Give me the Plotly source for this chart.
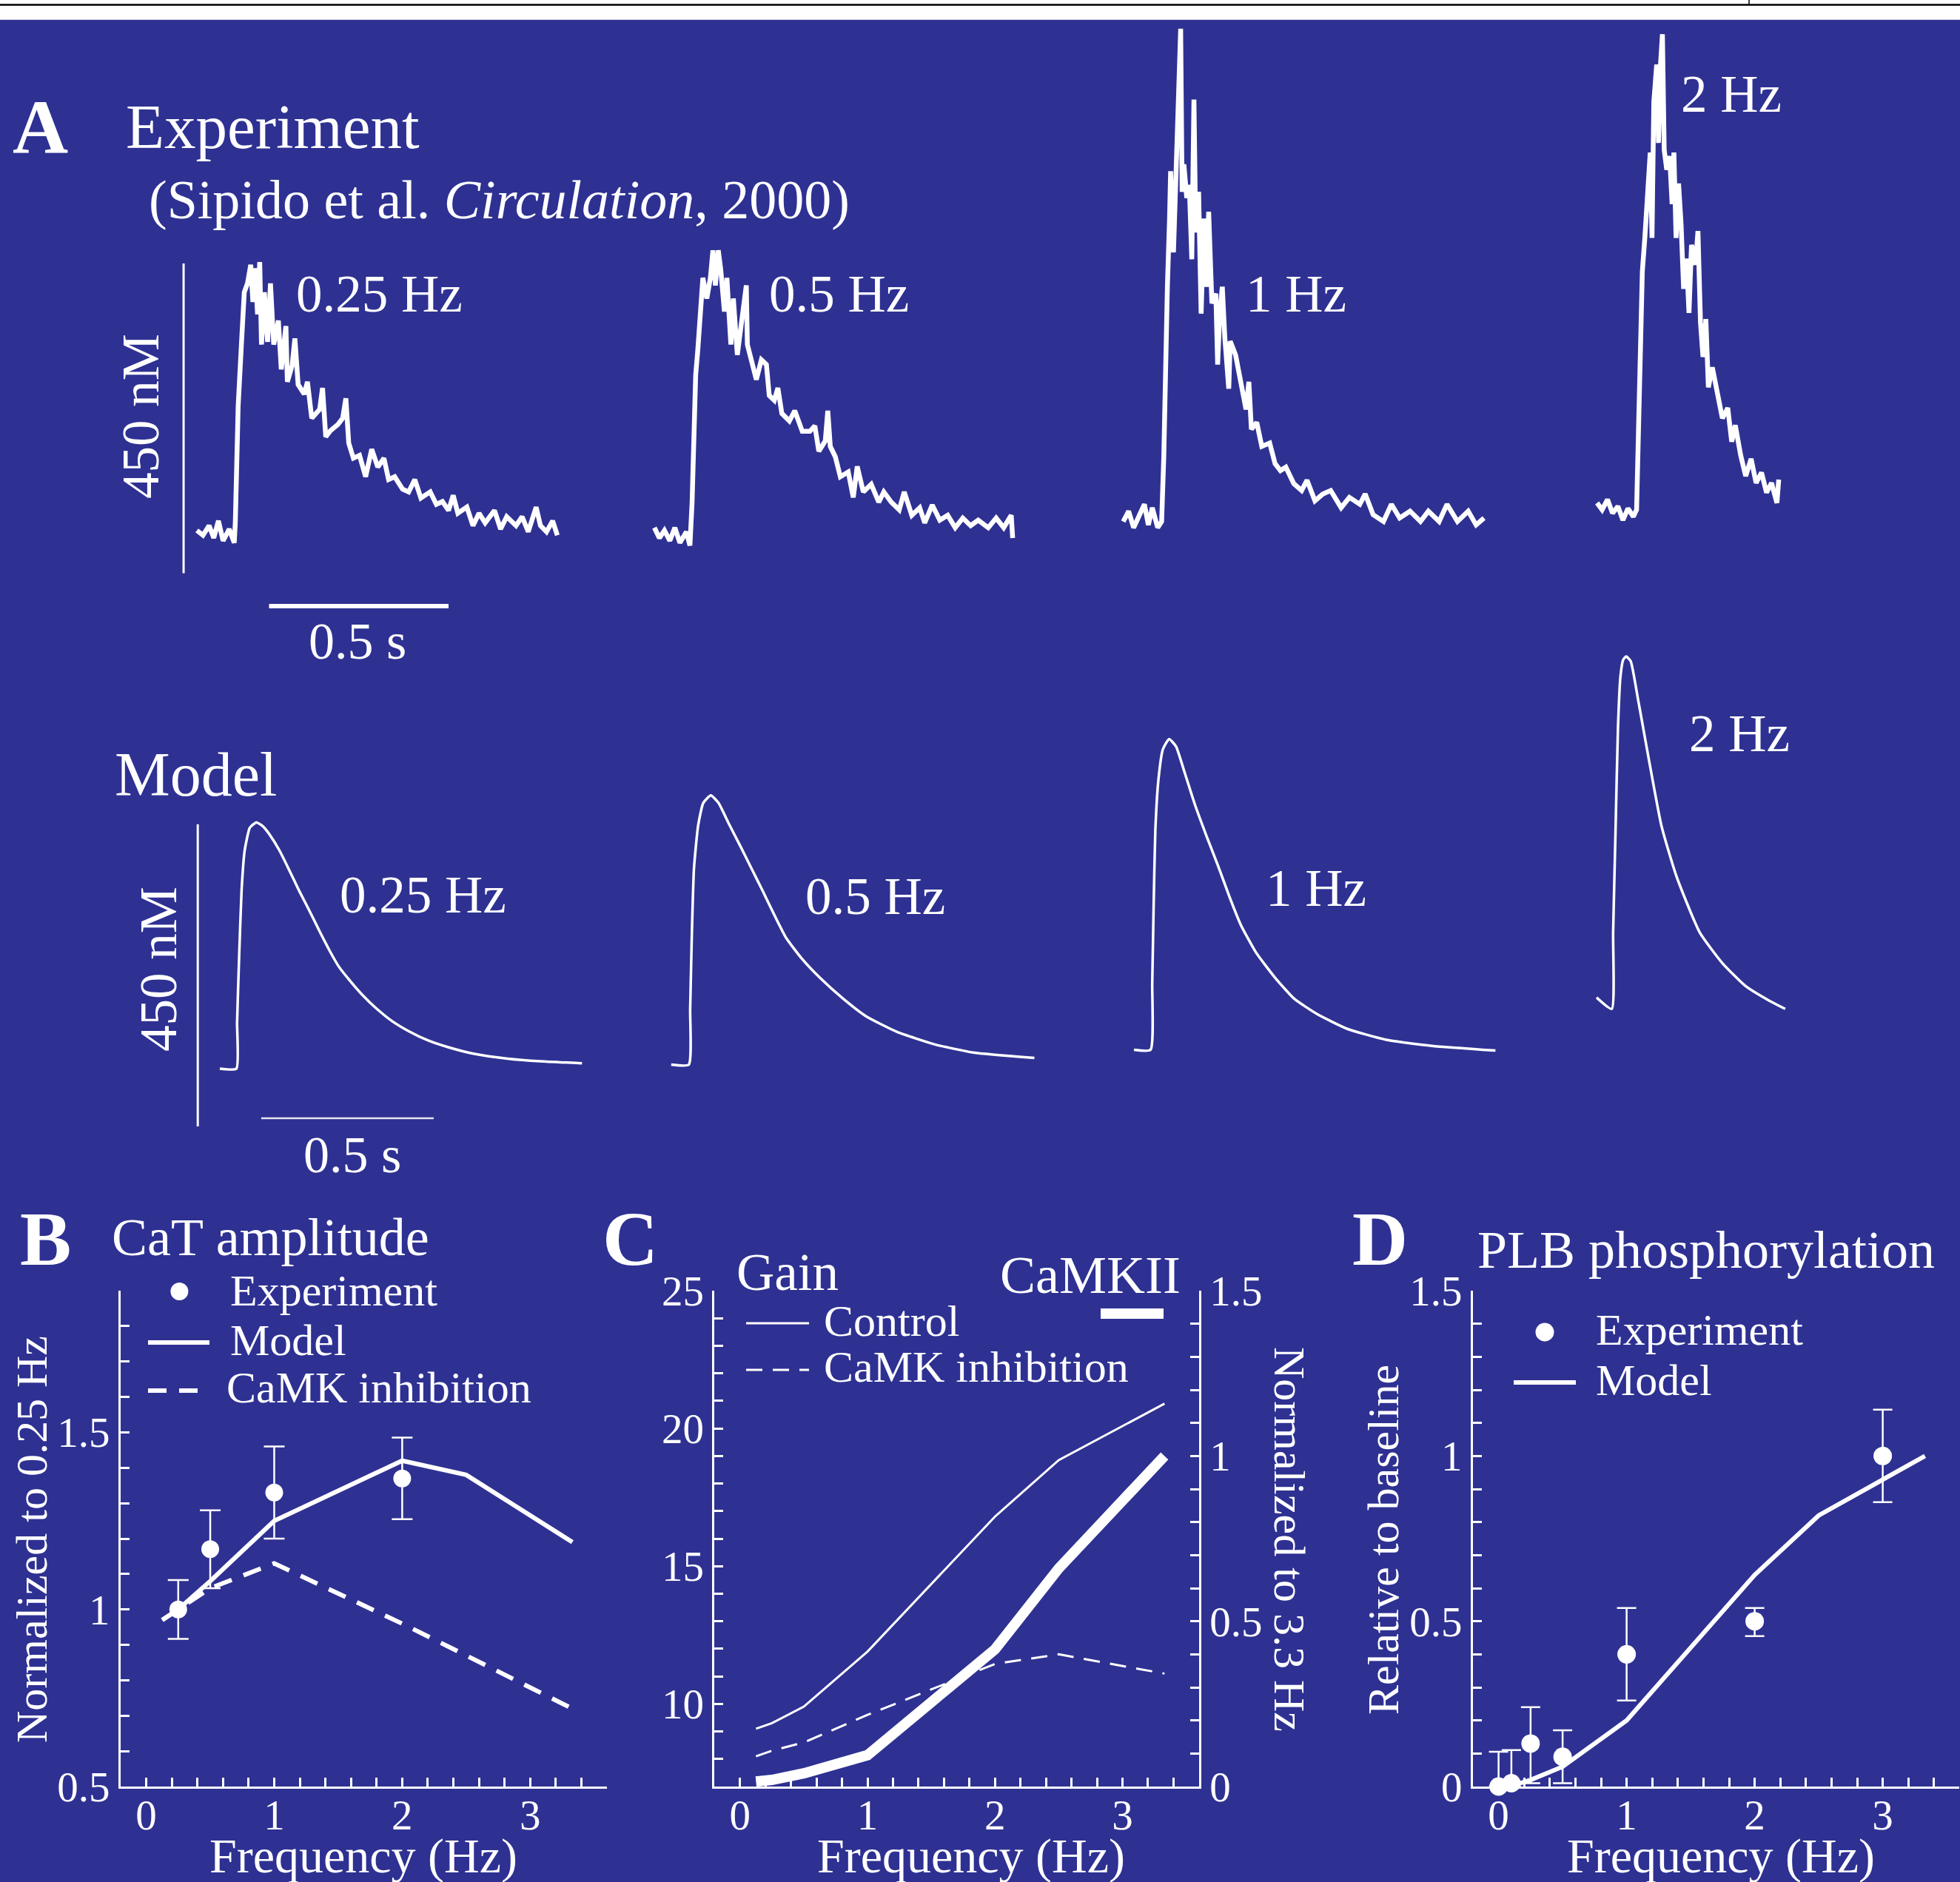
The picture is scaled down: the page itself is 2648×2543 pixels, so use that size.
import plotly.graph_objects as go

W, H = 2648, 2543
BG = "#2E3192"
FG = "white"
FONT = "Liberation Serif"

# ---------------- Panel A data (time in ms, [Ca] in nM) ----------------
exp_025_t = [0,17,34,47,60,73,90,104,107,115,124,132,141,150,156,162,169,175,180,188,197,205,214,227,235,248,252,265,273,282,299,308,320,342,350,359,372,393,406,415,423,436,453,470,487,504,521,534,551,573,590,607,624,650,667,684,701,714,727,752,769,786,803,829,846,863,889,906,923,945,957,974,991,1004]
exp_025_ca = [102,95,109,91,116,87,104,84,113,283,372,448,461,488,434,483,416,492,372,448,376,461,372,407,336,399,318,341,381,314,300,318,265,278,309,238,247,256,265,294,229,207,211,180,220,194,207,176,180,162,158,176,149,158,140,144,131,153,127,136,109,127,113,131,104,122,109,122,100,136,109,100,116,95]

exp_05_t = [0,14,28,43,57,71,89,99,105,110,115,121,128,135,146,156,163,170,178,185,195,202,213,220,231,241,249,256,259,270,284,298,312,320,334,344,355,376,391,412,433,447,458,476,483,490,504,518,540,554,565,582,604,625,639,660,682,696,717,739,753,774,795,817,838,859,881,902,930,952,973,994,998]
exp_05_ca = [106,91,102,87,106,84,100,80,143,254,328,365,432,469,439,469,509,458,509,480,420,469,372,439,357,402,428,458,372,350,321,350,343,298,291,309,272,261,276,246,246,254,217,232,276,224,209,180,187,150,195,158,169,143,158,143,132,158,124,135,113,139,117,124,106,120,109,117,106,120,106,124,91]

exp_1_t = [0,15,29,44,59,70,81,96,107,113,118,123,129,132,140,147,154,160,164,169,177,184,191,197,202,210,217,225,232,238,247,258,263,269,276,283,294,298,313,328,342,350,357,372,386,408,423,438,453,475,497,512,534,556,578,607,630,659,674,696,725,747,770,799,828,850,880,902,931,961,983,1005]
exp_1_ca = [115,130,106,125,140,110,135,106,115,209,357,456,555,624,506,614,698,831,594,634,585,604,496,728,535,594,417,555,456,565,432,446,343,417,456,382,308,377,357,318,278,318,249,259,224,229,199,189,194,170,160,175,145,155,160,135,150,140,155,125,115,140,120,130,115,130,115,140,115,130,110,120]

exp_2_t = [0,14,29,43,58,72,86,101,110,115,121,126,133,140,148,153,158,166,171,176,182,187,194,202,209,214,220,227,234,241,249,256,263,274,281,288,295,303,310,321,335,349,364,375,385,400,414,429,443,458,472,486,501,506]
exp_2_ca = [142,132,147,127,137,117,134,122,132,231,379,478,527,576,651,527,725,779,665,774,823,655,626,646,576,651,527,606,547,453,497,418,517,488,537,404,354,409,310,339,300,265,280,231,255,211,181,206,171,186,157,171,142,176]

mod_025_t = [0,48,50,56,63,72,87,106,125,144,173,202,230,259,288,317,345,374,413,451,499,547,604,662,738,834,930,1050]
mod_025_ca = [100,100,169,267,365,425,459,467,461,449,425,395,365,336,306,277,252,233,210,191,171,156,142,132,122,115,111,108]

mod_05_t = [0,51,55,60,66,78,93,115,137,166,200,233,266,299,333,377,432,499,565,654,765,876,1053]
mod_05_ca = [106,106,189,303,398,462,496,507,496,466,432,398,364,329,295,265,235,204,178,155,136,124,116]

mod_1_t = [0,48,53,57,62,71,84,102,122,144,177,210,244,277,310,354,410,465,532,620,731,864,1048]
mod_1_ca = [128,128,227,341,455,531,576,591,580,546,493,447,402,356,314,273,235,204,181,159,143,134,127]

mod_2_t = [0,44,48,55,62,69,77,86,99,122,188,232,299,365,432,498,547]
mod_2_ca = [206,189,303,455,607,683,709,714,707,645,462,386,303,257,223,202,189]

freq_labels = ["0.25 Hz", "0.5 Hz", "1 Hz", "2 Hz"]
SCALE_CA_NM = 450
SCALE_T_MS = 500

# ---------------- Panel B data ----------------
b_exp_f = [0.25, 0.5, 1, 2]
b_exp_amp = [1.0, 1.17, 1.33, 1.37]
b_exp_err = [0.083, 0.11, 0.13, 0.115]
b_model_f = [0.125, 0.25, 0.5, 1, 2, 2.5, 3.33]
b_model_amp = [0.97, 1.0, 1.08, 1.25, 1.42, 1.38, 1.19]
b_inh_amp = [0.97, 1.0, 1.06, 1.13, 0.96, 0.87, 0.72]

# ---------------- Panel C data ----------------
c_f = [0.125, 0.25, 0.5, 1, 2, 2.5, 3.33]
c_gain_ctrl = [9.1, 9.3, 9.9, 11.9, 16.8, 18.85, 20.9]
c_gain_inh = [8.1, 8.3, 8.6, 9.6, 11.45, 11.8, 11.1]
c_camkii = [0.015, 0.02, 0.04, 0.095, 0.415, 0.66, 1.0]

# ---------------- Panel D data ----------------
d_exp_f = [0, 0.1, 0.25, 0.5, 1, 2, 3]
d_exp_val = [0, 0.01, 0.13, 0.09, 0.40, 0.50, 1.0]
d_err_plus = [0.105, 0.10, 0.11, 0.08, 0.14, 0.04, 0.14]
d_err_minus = [0, 0.01, 0.12, 0.08, 0.14, 0.045, 0.14]
d_model_f = [0.125, 0.25, 0.5, 1, 2, 2.5, 3.33]
d_model_val = [0.005, 0.02, 0.06, 0.2, 0.64, 0.82, 1.0]

# ---------------- helpers ----------------
def px(xp):
    return xp / W

def py(yp):
    return 1 - yp / H

def dom_x(a, b):
    return [max(0, a / W), min(1, b / W)]

def dom_y(top, bottom):
    return [1 - bottom / H, 1 - top / H]

fig = go.Figure()
layout_axes = {}

def ax_name(prefix, i):
    return prefix if i == 1 else f"{prefix}{i}"

# Panel A geometry
EXP_T0 = [266, 884.1, 1517.5, 2157.7]
EXP_SX = 0.485   # px per ms
EXP_V0 = 811.6   # px of 0 nM
EXP_SY = 0.93    # px per nM
MOD_T0 = [297, 906.8, 1532, 2157]
MOD_SX = 0.466
MOD_V0 = 1534.7
MOD_SY = 0.907

exp_traces = [(exp_025_t, exp_025_ca), (exp_05_t, exp_05_ca), (exp_1_t, exp_1_ca), (exp_2_t, exp_2_ca)]
mod_traces = [(mod_025_t, mod_025_ca), (mod_05_t, mod_05_ca), (mod_1_t, mod_1_ca), (mod_2_t, mod_2_ca)]

hidden = dict(visible=False, showgrid=False, zeroline=False, fixedrange=True, automargin=False)

for row, (traces, T0, SX, V0, SY, ytop, ybot, line) in enumerate([
        (exp_traces, EXP_T0, EXP_SX, EXP_V0, EXP_SY, 27, 900, dict(color=FG, width=6.5)),
        (mod_traces, MOD_T0, MOD_SX, MOD_V0, MOD_SY, 850, 1600,
         dict(color=FG, width=3.5, shape="spline", smoothing=0.5))]):
    for c in range(4):
        i = row * 4 + c + 1
        t0 = T0[c]
        a, b = t0 - 90, min(t0 + 560, W)
        layout_axes[ax_name("xaxis", i)] = dict(hidden, domain=dom_x(a, b),
                                                 range=[(a - t0) / SX, (b - t0) / SX], anchor=f"y{i}")
        layout_axes[ax_name("yaxis", i)] = dict(hidden, domain=dom_y(ytop, ybot),
                                                 range=[(V0 - ybot) / SY, (V0 - ytop) / SY], anchor=f"x{i}")
        t, ca = traces[c]
        fig.add_trace(go.Scatter(x=t, y=ca, mode="lines", line=line,
                                 xaxis=f"x{i}", yaxis=f"y{i}", hoverinfo="skip"))

# ---------------- Panels B, C, D axes ----------------
tick_font = dict(family=FONT, size=57, color=FG)
base_axis = dict(showline=True, linecolor=FG, linewidth=3, ticks="inside", ticklen=12,
                 tickwidth=2.5, tickcolor=FG, showgrid=False, zeroline=False,
                 tickfont=tick_font, fixedrange=True, automargin=False)

def fmt(v):
    return str(int(round(v))) if abs(v - round(v)) < 1e-9 else f"{v:g}"

freq_ticks = [round(-0.2 + 0.2 * k, 1) for k in range(20)]
freq_text = [fmt(v) if v in (0, 1, 2, 3) else "" for v in freq_ticks]

def yticks(lo, hi, step, labeled):
    n = int(round((hi - lo) / step))
    vals = [round(lo + step * k, 3) for k in range(n + 1)]
    text = [fmt(v) if any(abs(v - l) < 1e-9 for l in labeled) else "" for v in vals]
    return vals, text

xfreq = dict(range=[-0.2, 3.6], tickmode="array", tickvals=freq_ticks, ticktext=freq_text,
             ticklabelstandoff=-13)

PY_TOP, PY_BOT = 1744, 2414
# B
bx = [163, 820]
vals, txt = yticks(0.5, 1.9, 0.1, [0.5, 1, 1.5])
layout_axes["xaxis9"] = dict(base_axis, **xfreq, domain=dom_x(*bx), anchor="y9")
layout_axes["yaxis9"] = dict(base_axis, domain=dom_y(PY_TOP, PY_BOT), range=[0.5, 1.9], anchor="x9",
                             tickmode="array", tickvals=vals, ticktext=txt)
# C
cx = [965.4, 1619.8]
vals, txt = yticks(7, 25, 1, [10, 15, 20, 25])
layout_axes["xaxis10"] = dict(base_axis, **xfreq, domain=dom_x(*cx), anchor="y10")
layout_axes["yaxis10"] = dict(base_axis, domain=dom_y(PY_TOP, PY_BOT), range=[7, 25], anchor="x10",
                              tickmode="array", tickvals=vals, ticktext=txt)
vals, txt = yticks(0, 1.5, 0.1, [0, 0.5, 1, 1.5])
layout_axes["yaxis11"] = dict(base_axis, range=[0, 1.5], anchor="x10", overlaying="y10", side="right",
                              tickmode="array", tickvals=vals, ticktext=txt)
# D
dx = [1990, 2647.4]
layout_axes["xaxis12"] = dict(base_axis, **xfreq, domain=dom_x(*dx), anchor="y12")
layout_axes["yaxis12"] = dict(base_axis, domain=dom_y(PY_TOP, PY_BOT), range=[0, 1.5], anchor="x12",
                              tickmode="array", tickvals=vals, ticktext=txt)

# ---------------- B traces ----------------
fig.add_trace(go.Scatter(x=b_model_f, y=b_model_amp, mode="lines", line=dict(color=FG, width=6),
                         xaxis="x9", yaxis="y9", hoverinfo="skip"))
fig.add_trace(go.Scatter(x=b_model_f, y=b_inh_amp, mode="lines",
                         line=dict(color=FG, width=6, dash="25px,17px"),
                         xaxis="x9", yaxis="y9", hoverinfo="skip"))
fig.add_trace(go.Scatter(x=b_exp_f, y=b_exp_amp, mode="markers", marker=dict(color=FG, size=24),
                         error_y=dict(type="data", array=b_exp_err, color=FG, thickness=2.5, width=14),
                         xaxis="x9", yaxis="y9", hoverinfo="skip"))
# ---------------- C traces ----------------
fig.add_trace(go.Scatter(x=c_f, y=c_camkii, mode="lines", line=dict(color=FG, width=14),
                         xaxis="x10", yaxis="y11", hoverinfo="skip"))
fig.add_trace(go.Scatter(x=c_f, y=c_gain_ctrl, mode="lines", line=dict(color=FG, width=3),
                         xaxis="x10", yaxis="y10", hoverinfo="skip"))
fig.add_trace(go.Scatter(x=c_f, y=c_gain_inh, mode="lines", line=dict(color=FG, width=3, dash="22px,14px"),
                         xaxis="x10", yaxis="y10", hoverinfo="skip"))
# ---------------- D traces ----------------
fig.add_trace(go.Scatter(x=d_model_f, y=d_model_val, mode="lines", line=dict(color=FG, width=6),
                         xaxis="x12", yaxis="y12", hoverinfo="skip"))
fig.add_trace(go.Scatter(x=d_exp_f, y=d_exp_val, mode="markers", marker=dict(color=FG, size=25),
                         error_y=dict(type="data", symmetric=False, array=d_err_plus, arrayminus=d_err_minus,
                                      color=FG, thickness=2.5, width=13),
                         xaxis="x12", yaxis="y12", hoverinfo="skip", cliponaxis=False))

# ---------------- shapes ----------------
shapes = []
# top white strip with border line
shapes.append(dict(type="rect", xref="paper", yref="paper", x0=0, x1=1, y0=py(26.7), y1=1,
                   fillcolor="white", line=dict(width=0), layer="below"))
shapes.append(dict(type="line", xref="paper", yref="paper", x0=0, x1=1, y0=py(6.5), y1=py(6.5),
                   line=dict(color="black", width=2.5)))
shapes.append(dict(type="line", xref="paper", yref="paper", x0=px(2363), x1=px(2363), y0=py(0), y1=py(6.5),
                   line=dict(color="black", width=1.5)))

# scale bars (data units of first subplot in each row)
exp_bar_t, exp_bar_ca = -37, 40
shapes.append(dict(type="line", xref="x", yref="y", x0=exp_bar_t, x1=exp_bar_t,
                   y0=exp_bar_ca, y1=exp_bar_ca + SCALE_CA_NM, line=dict(color=FG, width=3)))
shapes.append(dict(type="line", xref="x", yref="y", x0=201, x1=201 + SCALE_T_MS,
                   y0=-8, y1=-8, line=dict(color=FG, width=6)))
mod_bar_t, mod_bar_ca = -64, 14
shapes.append(dict(type="line", xref="x5", yref="y5", x0=mod_bar_t, x1=mod_bar_t,
                   y0=mod_bar_ca, y1=mod_bar_ca + SCALE_CA_NM, line=dict(color=FG, width=3)))
shapes.append(dict(type="line", xref="x5", yref="y5", x0=120, x1=120 + SCALE_T_MS,
                   y0=26, y1=26, line=dict(color="#e8e8f0", width=2.5)))

def key_line(x0, x1, y, width, dash=None):
    ln = dict(color=FG, width=width)
    if dash:
        ln["dash"] = dash
    shapes.append(dict(type="line", xref="paper", yref="paper", x0=px(x0), x1=px(x1),
                       y0=py(y), y1=py(y), line=ln))

def key_dot(cx, cy, r):
    shapes.append(dict(type="circle", xref="paper", yref="paper", x0=px(cx - r), x1=px(cx + r),
                       y0=py(cy + r), y1=py(cy - r), fillcolor=FG, line=dict(width=0)))

# legend keys B
key_dot(242.4, 1745, 12)
key_line(200, 283, 1814, 6)
key_line(200, 283, 1879, 6, "25px,17px")
# legend keys C
key_line(1008, 1093, 1788, 3)
key_line(1008, 1093, 1851, 3, "22px,14px")
key_line(1487, 1572, 1775, 14)
# legend keys D
key_dot(2087, 1800, 12.5)
key_line(2045, 2129, 1868, 6)

# ---------------- annotations ----------------
annotations = []

def ann(text, x, y, size, xanchor="center", angle=0):
    annotations.append(dict(text=text, x=px(x), y=py(y), xref="paper", yref="paper",
                            xanchor=xanchor, yanchor="middle", showarrow=False, textangle=angle,
                            font=dict(family=FONT, size=size, color=FG)))

# Panel A
ann("<b>A</b>", 15, 172, 104, "left")
ann("Experiment", 168, 171, 85, "left")
ann("(Sipido et al. <i>Circulation</i>, 2000)", 199, 270, 74, "left")
ann("Model", 153, 1046, 84, "left")
exp_lab_pos = [(512, 397), (1133, 397), (1751, 397), (2339, 127)]
mod_lab_pos = [(571, 1209), (1182, 1211), (1778, 1200), (2350, 991)]
for lab, (x, y) in zip(freq_labels, exp_lab_pos):
    ann(lab, x, y, 71)
for lab, (x, y) in zip(freq_labels, mod_lab_pos):
    ann(lab, x, y, 71)
ann("0.5 s", 483, 866, 70)
ann("0.5 s", 476, 1560, 70)
ann("450 nM", 190, 563, 71, angle=-90)
ann("450 nM", 214, 1309, 71, angle=-90)

XT_Y, XT_SIZE = 2508, 66
# Panel B
ann("<b>B</b>", 25, 1673, 104, "left")
ann("CaT amplitude", 149, 1672, 72, "left")
ann("Experiment", 309, 1744, 60, "left")
ann("Model", 309, 1811, 60, "left")
ann("CaMK inhibition", 304, 1875, 60, "left")
ann("Normalized to 0.25 Hz", 43, 2080, 60, angle=-90)
ann("Frequency (Hz)", 491, XT_Y, XT_SIZE)

# Panel C
ann("<b>C</b>", 812, 1673, 104, "left")
ann("Gain", 993, 1719, 71, "left")
ann("CaMKII", 1349, 1723, 72, "left")
ann("Control", 1111, 1785, 60, "left")
ann("CaMK inhibition", 1111, 1847, 60, "left")
ann("Normalized to 3.3 Hz", 1742, 2080, 60, angle=90)
ann("Frequency (Hz)", 1312, XT_Y, XT_SIZE)

# Panel D
ann("<b>D</b>", 1825, 1673, 104, "left")
ann("PLB phosphorylation", 1994, 1689, 72, "left")
ann("Experiment", 2154, 1797, 60, "left")
ann("Model", 2154, 1865, 60, "left")
ann("Relative to baseline", 1869, 2081, 60, angle=-90)
ann("Frequency (Hz)", 2325, XT_Y, XT_SIZE)

fig.update_layout(
    template="none",
    width=W, height=H, autosize=False,
    margin=dict(l=0, r=0, t=0, b=0, pad=0),
    paper_bgcolor=BG, plot_bgcolor="rgba(0,0,0,0)",
    showlegend=False,
    font=dict(family=FONT, color=FG),
    shapes=shapes, annotations=annotations,
    **layout_axes,
)

fig.write_html("out.html",
               config={"displayModeBar": False},
               post_script="document.body.style.margin='0';document.body.style.padding='0';"
                           "document.body.style.overflow='hidden';")
